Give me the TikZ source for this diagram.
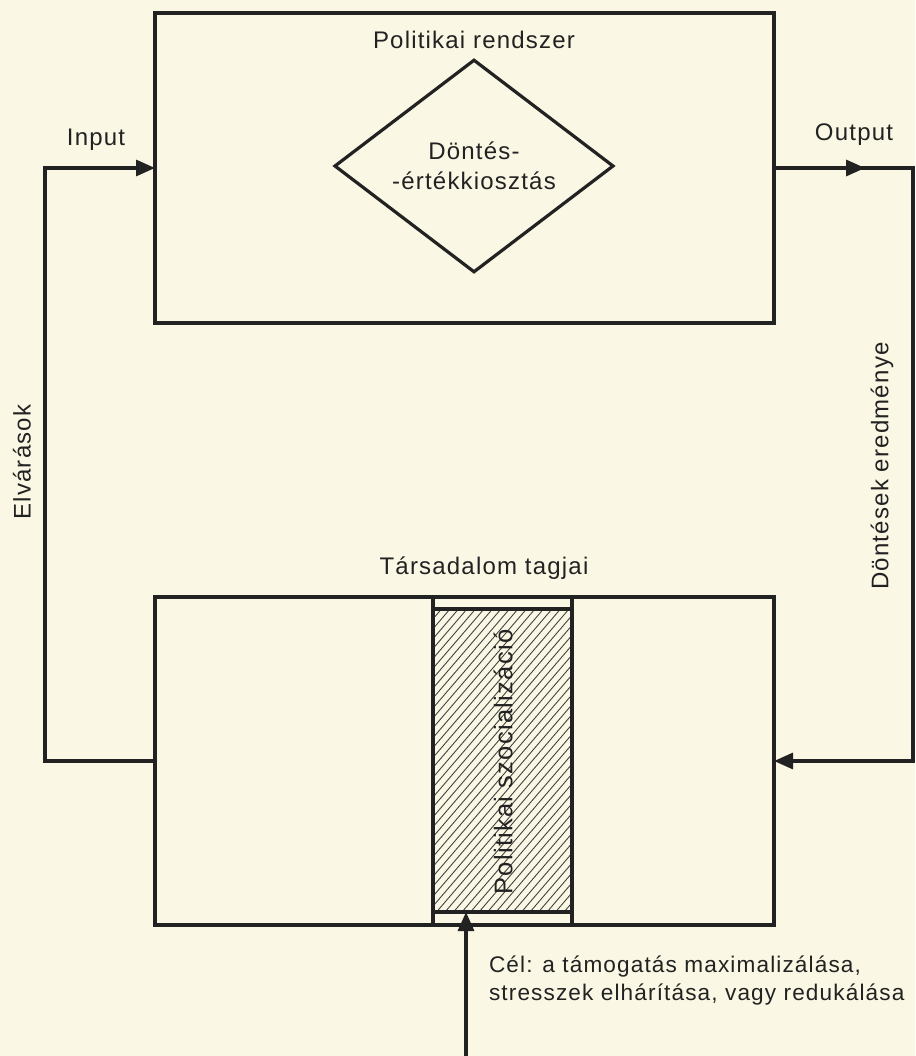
\documentclass[tikz,border=0pt]{standalone}
\usepackage{fontspec}
\setmainfont{Liberation Sans}[LetterSpace=5]
\usetikzlibrary{arrows.meta,shapes.geometric,calc}
\definecolor{paper}{RGB}{250,247,228}
\definecolor{ink}{RGB}{34,34,34}
\begin{document}
\begin{tikzpicture}[x=1pt,y=-1pt,
  every node/.style={text=ink,font=\fontsize{24}{29}\selectfont,inner sep=0pt,outer sep=0pt},
  box/.style={draw=ink,line width=3.2pt,rectangle},
  conn/.style={draw=ink,line width=3.2pt,line join=miter},
  tip/.style={-{Triangle[length=19pt,width=16pt]}},
  hatch/.style={draw=ink!85,line width=0.9pt}]
\fill[paper] (0,0) rectangle (915,1056);
\useasboundingbox (0,0) rectangle (915,1056);

% upper box
\node[box,minimum width=619pt,minimum height=310pt] (sys) at (464.5,168) {};
\node (systitle) at (474,40) {Politikai rendszer};
\node[draw=ink,line width=3.2pt,diamond,minimum width=278pt,minimum height=198pt,align=center] (dec) at (474,166)
  {Döntés-\\[1pt]-értékkiosztás};

% lower box
\node[box,minimum width=619pt,minimum height=328pt] (soc) at (464.5,761) {};
\node (soctitle) at (484,568) {Társadalom tagjai};

% socialisation column
\node[box,minimum width=139pt,minimum height=328pt] (col) at (502.5,761) {};
\coordinate (ct) at ($(col.north west)+(0,12)$);
\coordinate (cb) at ($(col.south west)+(0,-13)$);
\begin{scope}
  \clip (ct) rectangle (cb -| col.east);
  \foreach \i in {0,...,52} {
    \draw[hatch] ($(cb)+(-260+8.5*\i,0)$) -- ++(260,-303);
  }
\end{scope}
\draw[conn] (ct) -- (ct -| col.east);
\draw[conn] (cb) -- (cb -| col.east);
\draw[box] (col.north west) rectangle (col.south east);
\node[rotate=90,font=\fontsize{25.5}{30}\selectfont] (soclab) at (503,762) {Politikai szocializáció};

% left loop: expectations
\coordinate (L) at (45,0);
\draw[conn,tip] (soc.west) -- (soc.west -| L) -- (sys.west -| L) -- (sys.west);
\node (inlab) at (96,140) {Input};
\node[rotate=90] (elv) at (22,462) {Elvárások};

% right loop: output
\coordinate (R) at (913,0);
\draw[conn,tip] (sys.east) -- (sys.east -| R) -- (soc.east -| R) -- (soc.east);
\draw[conn,tip] (sys.east) -- ($(sys.east)!0.655!(sys.east -| R)$);
\node (outlab) at (854,135) {Output};
\node[rotate=90] (dontes) at (882,466) {Döntések eredménye};

% bottom arrow
\coordinate (B) at (466,1056);
\draw[conn,tip] (B) -- (B |- cb);
\node[anchor=west,align=left,font=\fontsize{22.6}{28}\selectfont] (cel) at (489,981)
  {Cél: a támogatás maximalizálása,\\stresszek elhárítása, vagy redukálása};
\end{tikzpicture}
\end{document}
